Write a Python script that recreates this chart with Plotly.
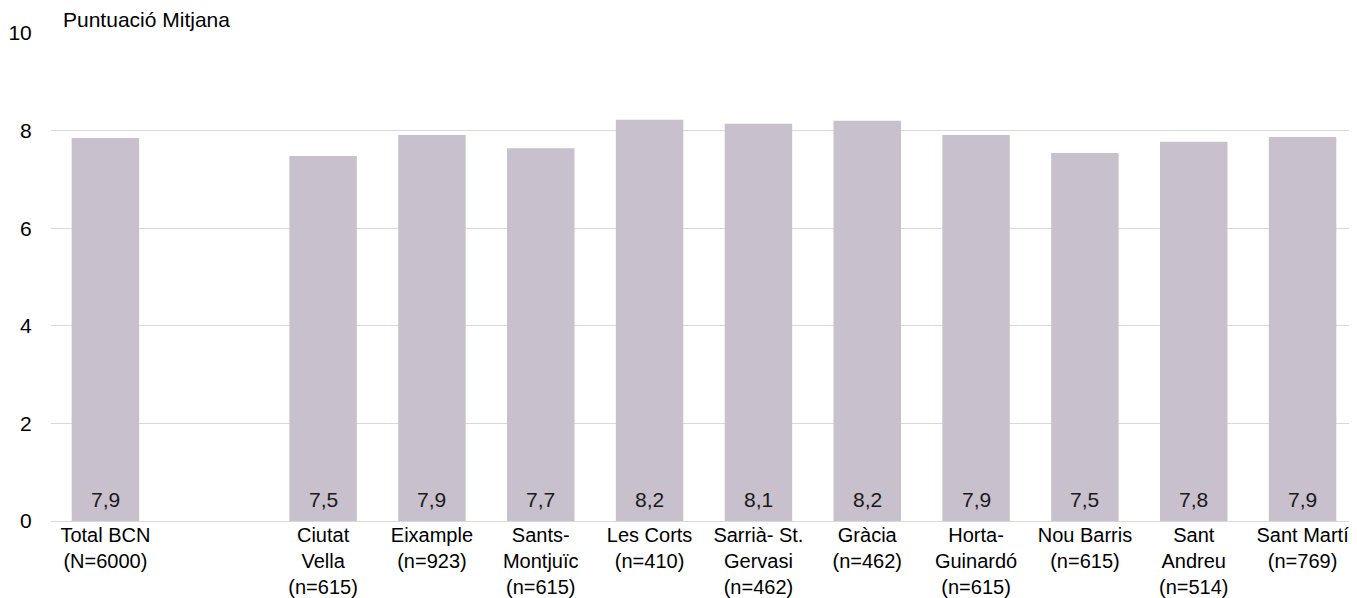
import plotly.graph_objects as go

# categories (an empty slot separates the city total from the districts)
categories = [
    "Total BCN<br>(N=6000)",
    " ",
    "Ciutat<br>Vella<br>(n=615)",
    "Eixample<br>(n=923)",
    "Sants-<br>Montjuïc<br>(n=615)",
    "Les Corts<br>(n=410)",
    "Sarrià- St.<br>Gervasi<br>(n=462)",
    "Gràcia<br>(n=462)",
    "Horta-<br>Guinardó<br>(n=615)",
    "Nou Barris<br>(n=615)",
    "Sant<br>Andreu<br>(n=514)",
    "Sant Martí<br>(n=769)",
]
scores = [7.85, None, 7.48, 7.91, 7.64, 8.22, 8.14, 8.2, 7.91, 7.54, 7.77, 7.87]
score_labels = ["7,9", "", "7,5", "7,9", "7,7", "8,2", "8,1", "8,2", "7,9", "7,5", "7,8", "7,9"]
y_ticks = [0, 2, 4, 6, 8, 10]

BAR_COLOUR = "#C8C0CC"
FONT = "Liberation Sans, Arial, sans-serif"
FS = 21

fig = go.Figure()

fig.add_trace(go.Bar(
    x=categories,
    y=scores,
    marker=dict(color=BAR_COLOUR, line=dict(width=0)),
    hoverinfo="x+y",
))

# value labels sit near the base of each bar
labels = [
    dict(
        x=cat, y=0, xref="x", yref="y",
        text=lab, showarrow=False,
        yanchor="middle", yshift=22,
        font=dict(family=FONT, size=FS, color="#1A1A1A"),
    )
    for cat, lab in zip(categories, score_labels) if lab
]

labels.append(dict(
    text="Puntuació Mitjana",
    xref="paper", yref="paper",
    x=0.0077, y=1.0,
    xanchor="left", yanchor="bottom",
    showarrow=False,
    font=dict(family=FONT, size=FS, color="#000000"),
))

# the page adds an 8px body margin, so the figure is 8px smaller
fig.update_layout(
    width=1349,
    height=590,
    margin=dict(l=43, r=0, t=25, b=77),
    plot_bgcolor="white",
    paper_bgcolor="white",
    bargap=0.38,
    showlegend=False,
    font=dict(family=FONT, size=FS, color="#000000"),
    annotations=labels,
)

fig.update_xaxes(
    type="category",
    automargin=False,
    showgrid=False,
    showline=False,
    ticks="",
    tickfont=dict(family=FONT, size=20, color="#000000"),
)

fig.update_yaxes(
    range=[0, 10],
    automargin=False,
    tickvals=y_ticks,
    ticktext=[str(v) for v in y_ticks],
    showgrid=True,
    gridcolor="#D9D9D9",
    gridwidth=1,
    zeroline=True,
    zerolinecolor="#D9D9D9",
    zerolinewidth=1,
    showline=False,
    ticks="outside",
    ticklen=14,
    tickcolor="white",
    tickfont=dict(family=FONT, size=FS, color="#000000"),
)

fig.write_html("out.html")
